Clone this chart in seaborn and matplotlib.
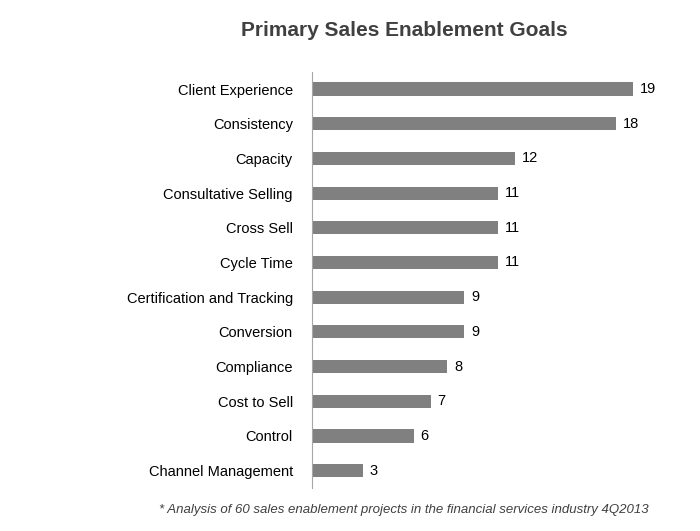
import matplotlib
matplotlib.use("Agg")
import matplotlib.pyplot as plt
import seaborn as sns
import pandas as pd

categories = ["Client Experience", "Consistency", "Capacity", "Consultative Selling",
              "Cross Sell", "Cycle Time", "Certification and Tracking", "Conversion",
              "Compliance", "Cost to Sell", "Control", "Channel Management"]
values = [19, 18, 12, 11, 11, 11, 9, 9, 8, 7, 6, 3]

df = pd.DataFrame({"goal": categories, "count": values})
plt.rcParams["font.family"] = "Liberation Sans"

fig = plt.figure(figsize=(7, 5.31), dpi=100)
ax = fig.add_axes([0.446, 0.081, 0.483, 0.784])
sns.barplot(data=df, x="count", y="goal", color="#808080", width=0.38,
            saturation=1, ax=ax, orient="h")
ax.set_xlim(0, 20)
ax.set_ylim(len(categories) - 0.5, -0.5)
ax.set_xlabel("")
ax.set_ylabel("")
ax.set_xticks([])
for s in ["top", "right", "bottom"]:
    ax.spines[s].set_visible(False)
ax.spines["left"].set_color("#a6a6a6")
ax.tick_params(axis="y", length=0, labelsize=10.5, colors="#000000", pad=14)
for i, v in enumerate(values):
    ax.text(v + 0.4, i, str(v), va="center", ha="left", fontsize=10.5)

fig.text(0.578, 0.943, "Primary Sales Enablement Goals", ha="center", va="center",
         fontsize=15, fontweight="bold", color="#404040")
fig.text(0.577, 0.040, "* Analysis of 60 sales enablement projects in the financial services industry 4Q2013",
         ha="center", va="center", fontsize=9.5, style="italic", color="#404040")
fig.savefig("out.png", dpi=100)
